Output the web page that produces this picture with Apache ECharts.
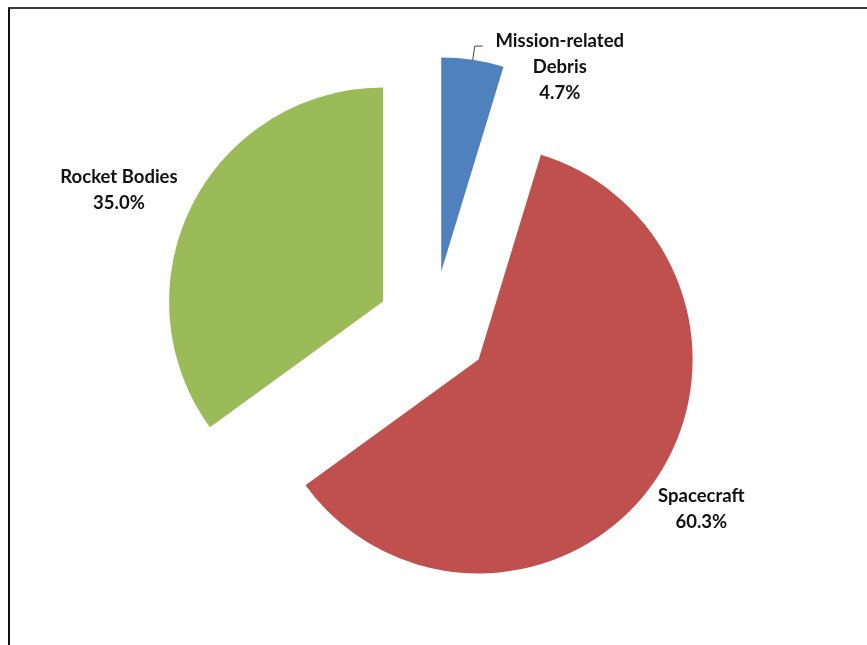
<!DOCTYPE html>
<html>
<head>
<meta charset="utf-8">
<script src="https://cdn.jsdelivr.net/npm/echarts@6/dist/echarts.min.js"></script>
<style>
  html, body { margin: 0; padding: 0; background: #fff; }
  #chart { width: 867px; height: 645px; }
</style>
</head>
<body>
<div id="chart"></div>
<script>
// Catalogued objects by type (share of total)
const categories = ['Mission-related\nDebris', 'Spacecraft', 'Rocket Bodies'];
const shares = [4.7, 60.3, 35.0];
const colors = ['#4F81BD', '#C0504D', '#9BBB59'];
const labelWidths = [140, 100, 130];
// nudges applied to each outside label after the pie lays it out
const labelShiftX = [2, -26, 17];
const labelShiftY = [21, 17, -8];

const data = categories.map((name, i) => ({
  name: name,
  value: shares[i],
  selected: true,
  itemStyle: { color: colors[i] },
  label: {
    formatter: p => p.name.split('\n').concat(p.value.toFixed(1) + '%')
      .map(s => '{t|' + s + '}').join('\n'),
    rich: { t: { width: labelWidths[i], align: 'center' } }
  },
  labelLine: { show: i === 0 }
}));

const chart = echarts.init(document.getElementById('chart'));
chart.setOption({
  animation: false,
  graphic: [
    { type: 'line', shape: { x1: 8, y1: 8, x2: 867, y2: 8 },
      style: { stroke: '#3a3a3a', lineWidth: 2 } },
    { type: 'line', shape: { x1: 9, y1: 8, x2: 9, y2: 645 },
      style: { stroke: '#111', lineWidth: 2 } }
  ],
  series: [{
    type: 'pie',
    center: [433, 327],
    radius: [0, 214],
    startAngle: 90,
    clockwise: true,
    selectedMode: 'multiple',
    selectedOffset: 56,
    avoidLabelOverlap: false,
    label: {
      position: 'outside',
      color: '#111',
      fontFamily: 'Lato',
      fontWeight: 'bold',
      fontSize: 18.5,
      lineHeight: 26
    },
    labelLine: {
      length: 14,
      length2: 8,
      lineStyle: { color: '#444', width: 1 }
    },
    labelLayout: p => ({ dx: labelShiftX[p.dataIndex], dy: labelShiftY[p.dataIndex] }),
    emphasis: { disabled: true },
    data: data
  }]
});
</script>
</body>
</html>
